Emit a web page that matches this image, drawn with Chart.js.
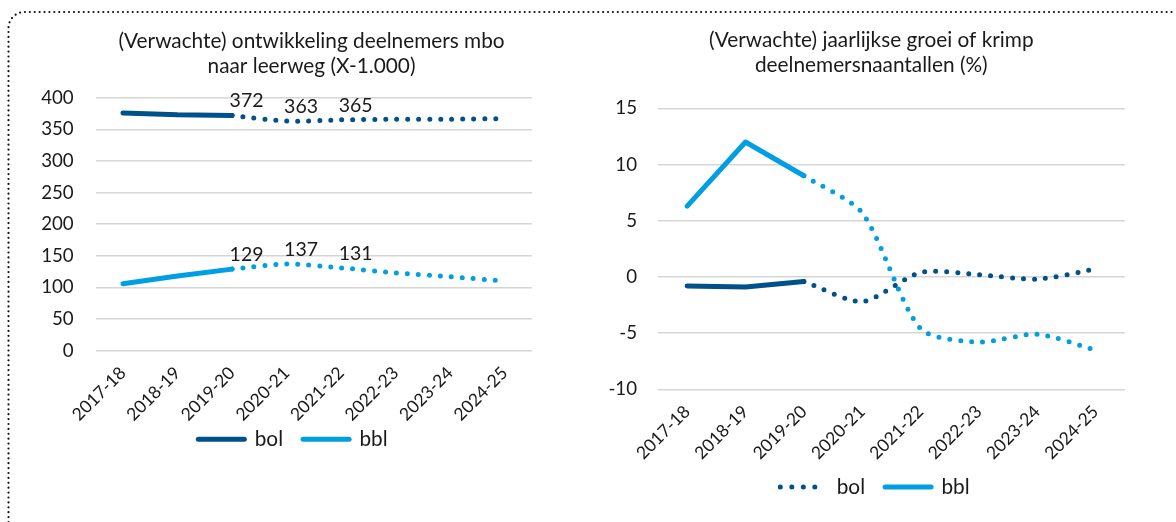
<!DOCTYPE html>
<html>
<head>
<meta charset="utf-8">
<script src="https://cdn.jsdelivr.net/npm/chart.js@4.4.1/dist/chart.umd.min.js"></script>
<style>
  html, body { margin: 0; padding: 0; background: #fff; width: 1176px; height: 522px; overflow: hidden; }
  #frame { position: absolute; left: 0; top: 0; }
  .box { position: absolute; top: 0; height: 522px; }
  #left { left: 0; width: 590px; }
  #right { left: 590px; width: 586px; }
</style>
</head>
<body>
<svg id="frame" width="1176" height="522">
  <path d="M8.5 522 L8.5 28 A16 16 0 0 1 24.5 12 L1176 12" fill="none" stroke="#111" stroke-width="2.2" stroke-linecap="round" stroke-dasharray="0 4.9"/>
</svg>
<div class="box" id="left"><canvas id="countChart"></canvas></div>
<div class="box" id="right"><canvas id="growthChart"></canvas></div>
<script>
// School years
const categories = ['2017-18', '2018-19', '2019-20', '2020-21', '2021-22', '2022-23', '2023-24', '2024-25'];

// Participants per learning pathway (x 1,000)
const bolCount = [376, 373, 372, 363, 365, 366, 366, 367];
const bblCount = [106, 118, 129, 137, 131, 123, 117, 110];

// Yearly growth or decline (%)
const bolGrowth = [-0.8, -0.9, -0.4, -2.2, 0.4, 0.2, -0.2, 0.7];
const bblGrowth = [6.3, 12.0, 9.0, 5.7, -4.6, -5.8, -5.1, -6.5];

// Axis ranges: min, max, step
const countAxis = [0, 400, 50];
const growthAxis = [-10, 15, 5];

// Years that carry a value label in the count chart
const labelledYears = ['2019-20', '2020-21', '2021-22'];
// Last year with realised figures; later years are forecasts
const lastActualYear = '2019-20';

const BOL = '#00508a';
const BBL = '#009fe3';
const TEXT = '#1a1a1a';
const GRID = '#d6d6d6';
const FONT = 'Lato';
const TITLE_SIZE = 20.8;
const LEGEND_SIZE = 20.8;
const XTICK_SIZE = 17.5;
const YTICK_SIZE = 18.7;
const VALUE_SIZE = 19.5;

const lastActual = categories.indexOf(lastActualYear);
const DOTS = [0, 11];

const actualPart = values => values.map((v, i) => (i <= lastActual ? v : null));
const forecastPart = values => values.map((v, i) => (i >= lastActual ? v : null));

// Realised years: straight solid line. Forecast years: smoothed dotted line.
function seriesPair(label, values, color, withValues) {
  const common = {
    borderColor: color,
    backgroundColor: color,
    borderWidth: 5,
    borderCapStyle: 'round',
    borderJoinStyle: 'round',
    pointRadius: 0,
    pointHoverRadius: 0,
    spanGaps: false
  };
  return [
    Object.assign({ label, data: actualPart(values), tension: 0 }, common),
    Object.assign({ label: label + ' (prognose)', data: forecastPart(values), tension: 0.25, borderDash: DOTS, showValues: withValues }, common)
  ];
}

function legendEntry(text, color, dotted) {
  return {
    text,
    fillStyle: 'rgba(0,0,0,0)',
    strokeStyle: color,
    lineWidth: 5,
    lineCap: 'round',
    lineDash: dotted ? [0, 11.5] : [],
    pointStyle: 'line',
    fontColor: TEXT,
    hidden: false
  };
}

// Writes the value next to selected points of flagged datasets
const valueLabels = {
  id: 'valueLabels',
  afterDatasetsDraw(chart, args, opts) {
    if (!opts || !opts.years) return;
    const { ctx } = chart;
    ctx.save();
    ctx.font = `${VALUE_SIZE}px ${FONT}`;
    ctx.fillStyle = TEXT;
    ctx.textAlign = 'center';
    ctx.textBaseline = 'middle';
    chart.data.datasets.forEach((ds, di) => {
      if (!ds.showValues) return;
      const meta = chart.getDatasetMeta(di);
      opts.years.forEach(year => {
        const i = categories.indexOf(year);
        const pt = meta.data[i];
        if (ds.data[i] == null || !pt) return;
        ctx.fillText(String(ds.data[i]), pt.x + opts.dx, pt.y + opts.dy);
      });
    });
    ctx.restore();
  }
};

// Centres the title and legend on given x positions and sets the legend's distance below the plot
const placeBlocks = {
  id: 'placeBlocks',
  afterLayout(chart, args, opts) {
    const shift = (box, cx, top) => {
      if (!box) return;
      if (cx != null) {
        const w = box.right - box.left;
        box.left = cx - w / 2;
        box.right = cx + w / 2;
      }
      if (top != null) {
        const h = box.bottom - box.top;
        box.top = top;
        box.bottom = top + h;
      }
    };
    shift(chart.titleBlock, opts.titleX, null);
    shift(chart.legend, opts.legendX, chart.chartArea.bottom + opts.legendGap);
  }
};

function buildOptions(cfg) {
  return {
    responsive: true,
    maintainAspectRatio: false,
    animation: false,
    events: [],
    layout: { padding: cfg.padding },
    plugins: {
      title: {
        display: true,
        text: cfg.title,
        color: TEXT,
        font: { family: FONT, size: TITLE_SIZE, weight: 'normal', lineHeight: 25.2 / TITLE_SIZE },
        padding: cfg.titlePadding
      },
      legend: {
        position: 'bottom',
        labels: {
          usePointStyle: true,
          pointStyleWidth: 46,
          padding: 20,
          color: TEXT,
          font: { family: FONT, size: LEGEND_SIZE },
          generateLabels: cfg.legend
        }
      },
      tooltip: { enabled: false },
      valueLabels: cfg.valueLabels || {},
      placeBlocks: cfg.place
    },
    scales: {
      x: {
        offset: true,
        grid: { display: false },
        border: { display: false },
        ticks: {
          color: TEXT,
          font: { family: FONT, size: XTICK_SIZE },
          minRotation: 45,
          maxRotation: 45,
          padding: cfg.xPad,
          autoSkip: false
        },
        afterFit(scale) { scale.height = cfg.xHeight; }
      },
      y: {
        min: cfg.axis[0],
        max: cfg.axis[1],
        grid: { color: GRID, lineWidth: 1.5, drawTicks: false },
        border: { display: false },
        ticks: {
          stepSize: cfg.axis[2],
          color: TEXT,
          font: { family: FONT, size: YTICK_SIZE },
          padding: cfg.yPad
        },
        afterFit(scale) { scale.width = cfg.yWidth; }
      }
    }
  };
}

new Chart(document.getElementById('countChart'), {
  type: 'line',
  data: {
    labels: categories,
    datasets: [...seriesPair('bol', bolCount, BOL, true), ...seriesPair('bbl', bblCount, BBL, true)]
  },
  options: buildOptions({
    padding: { left: 20, right: 58, top: 10, bottom: 40.5 },
    title: ['(Verwachte) ontwikkeling deelnemers mbo', 'naar leerweg (X-1.000)'],
    titlePadding: { top: 18.2, bottom: 19.1 },
    legend: () => [legendEntry('bol', BOL, false), legendEntry('bbl', BBL, false)],
    axis: countAxis,
    xPad: 4,
    xHeight: 80,
    yPad: 22,
    yWidth: 75.7,
    valueLabels: { years: labelledYears, dx: 14.5, dy: -14.5 },
    place: { titleX: 311.5, legendX: 293, legendGap: 58.2 }
  }),
  plugins: [valueLabels, placeBlocks]
});

new Chart(document.getElementById('growthChart'), {
  type: 'line',
  data: {
    labels: categories,
    datasets: [...seriesPair('bol', bolGrowth, BOL, false), ...seriesPair('bbl', bblGrowth, BBL, false)]
  },
  options: buildOptions({
    padding: { left: 10, right: 51.3, top: 10, bottom: 1.9 },
    title: ['(Verwachte) jaarlijkse groei of krimp', 'deelnemersnaantallen (%)'],
    titlePadding: { top: 17.4, bottom: 30.5 },
    legend: () => [legendEntry('bol', BOL, true), legendEntry('bbl', BBL, false)],
    axis: growthAxis,
    xPad: 4,
    xHeight: 80,
    yPad: 21,
    yWidth: 58,
    place: { titleX: 281.3, legendX: 285, legendGap: 67.3 }
  }),
  plugins: [valueLabels, placeBlocks]
});
</script>
</body>
</html>
